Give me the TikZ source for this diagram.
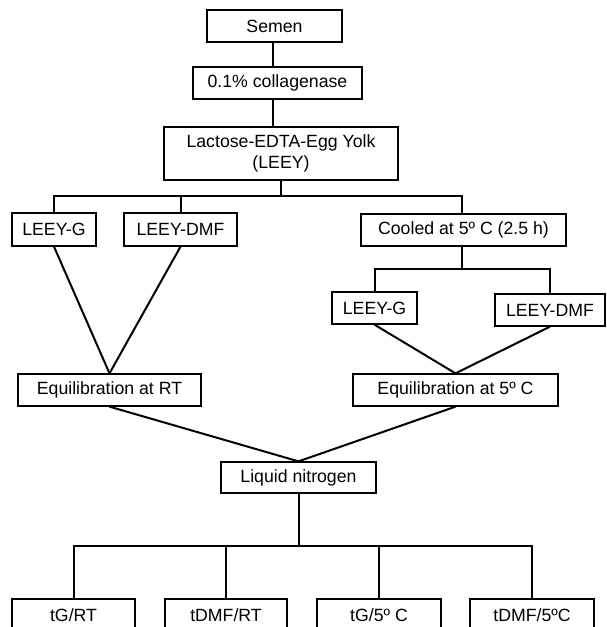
\documentclass[tikz,border=0pt]{standalone}
\usepackage{fontspec}
\setmainfont{Liberation Sans}
\begin{document}
\begin{tikzpicture}[x=1pt,y=-1pt,
  stepbox/.style={draw, line width=1.3pt, inner sep=0pt, align=center,
    font=\fontsize{17.7}{21}\selectfont},
  conn/.style={line width=2pt}]
\useasboundingbox (0,0) rectangle (606,627);
\clip (0,0) rectangle (606,627);
\node[stepbox, minimum width=135pt, minimum height=32pt] (semen) at (274.5,26) {Semen};
\node[stepbox, minimum width=169pt, minimum height=32pt] (coll) at (277.5,83) {0.1\% collagenase};
\node[stepbox, minimum width=234pt, minimum height=53pt] (leey) at (281,153.5) {Lactose-EDTA-Egg Yolk\\(LEEY)};
\node[stepbox, minimum width=84pt, minimum height=33pt] (lg1) at (54,229.5) {LEEY-G};
\node[stepbox, minimum width=113pt, minimum height=33pt] (ld1) at (180.5,229.5) {LEEY-DMF};
\node[stepbox, minimum width=205pt, minimum height=32pt] (cool) at (463.5,230) {Cooled at 5º C (2.5 h)};
\node[stepbox, minimum width=85pt, minimum height=32pt] (lg2) at (374.5,308) {LEEY-G};
\node[stepbox, minimum width=110pt, minimum height=32pt] (ld2) at (550,310) {LEEY-DMF};
\node[stepbox, minimum width=183pt, minimum height=32pt] (eqrt) at (109.5,390) {Equilibration at RT};
\node[stepbox, minimum width=205pt, minimum height=32pt] (eq5) at (455.5,390) {Equilibration at 5º C};
\node[stepbox, minimum width=155pt, minimum height=31pt] (ln) at (298.5,477.5) {Liquid nitrogen};
\node[stepbox, minimum width=123pt, minimum height=32pt] (b1) at (73.5,615) {tG/RT};
\node[stepbox, minimum width=122pt, minimum height=32pt] (b2) at (226,615) {tDMF/RT};
\node[stepbox, minimum width=124pt, minimum height=32pt] (b3) at (379,615) {tG/5º C};
\node[stepbox, minimum width=124pt, minimum height=32pt] (b4) at (532,615) {tDMF/5ºC};
\coordinate (bus1) at (281,196);
\coordinate (bus2) at (462,269);
\coordinate (bus3) at (298.5,546);
\draw[conn] (semen.south -| 273,0) -- (coll.north -| 273,0);
\draw[conn] (coll.south -| 273,0) -- (leey.north -| 273,0);
\draw[conn] (leey.south) -- (bus1);
\draw[conn] (lg1.north) |- (bus1) -| (cool.north -| bus2);
\draw[conn] (ld1.north) -- (ld1.north |- bus1);
\draw[conn] (cool.south -| bus2) -- (bus2);
\draw[conn] (lg2.north) |- (bus2) -| (ld2.north);
\draw[conn] (lg1.south) -- (eqrt.north);
\draw[conn] (ld1.south) -- (eqrt.north);
\draw[conn] (lg2.south) -- (eq5.north);
\draw[conn] (ld2.south) -- (eq5.north);
\draw[conn] (eqrt.south) -- (ln.north);
\draw[conn] (eq5.south) -- (ln.north);
\draw[conn] (ln.south) -- (bus3);
\draw[conn] (b1.north) |- (bus3) -| (b4.north);
\draw[conn] (b2.north) -- (b2.north |- bus3);
\draw[conn] (b3.north) -- (b3.north |- bus3);
\end{tikzpicture}
\end{document}
